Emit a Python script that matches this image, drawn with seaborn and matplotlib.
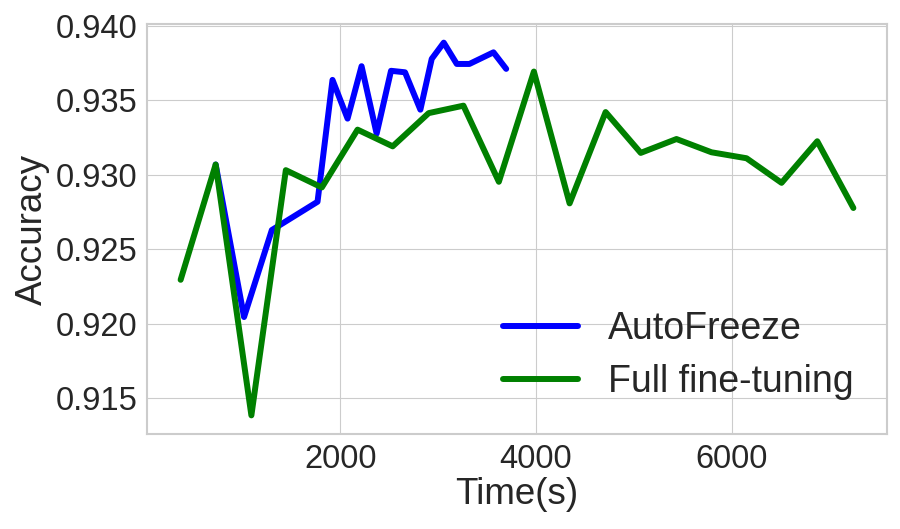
import numpy as np
import pandas as pd
import seaborn as sns
import matplotlib
matplotlib.use('Agg')
import matplotlib.pyplot as plt

# values
auto_time = [728, 1018, 1302, 1769, 1922, 2076, 2219, 2373, 2520,
             2663, 2820, 2936, 3059, 3192, 3321, 3567, 3697]
auto_acc = [0.9307, 0.92046, 0.9263, 0.9282, 0.93638, 0.93378, 0.9373, 0.93277, 0.93699,
            0.93689, 0.93438, 0.93779, 0.93888, 0.93745, 0.93745, 0.93823, 0.93712]

full_time = [370, 728, 1093, 1445, 1813, 2178, 2537, 2905, 3260, 3622,
             3980, 4345, 4713, 5072, 5437, 5795, 6153, 6511, 6876, 7245]
full_acc = [0.92296, 0.9307, 0.91386, 0.93032, 0.92916, 0.93304, 0.93192, 0.93415, 0.93465, 0.92954,
            0.93694, 0.92809, 0.93422, 0.93148, 0.93241, 0.93152, 0.93112, 0.92947, 0.93226, 0.92778]

sns.set_style('whitegrid')
plt.rcParams['font.family'] = ['Liberation Sans', 'DejaVu Sans']

fig, ax = plt.subplots(figsize=(9, 5.29), dpi=100)
fig.subplots_adjust(left=0.1633, right=0.9856, top=0.9546, bottom=0.1796)

sns.lineplot(x=auto_time, y=auto_acc, ax=ax, color='blue', linewidth=4.3,
             label='AutoFreeze', solid_capstyle='round')
sns.lineplot(x=full_time, y=full_acc, ax=ax, color='green', linewidth=4.3,
             label='Full fine-tuning', solid_capstyle='round')

ax.set_xlim(26, 7589)
ax.set_xlabel('Time(s)', fontsize=26.5, labelpad=2)
ax.set_ylabel('Accuracy', fontsize=26.5, labelpad=4)
ax.tick_params(labelsize=23.5)
ax.set_yticks([0.915, 0.920, 0.925, 0.930, 0.935, 0.940])
ax.set_xticks([2000, 4000, 6000])
for s in ax.spines.values():
    s.set_linewidth(1.5)

leg = ax.legend(loc='lower right', fontsize=27, frameon=False, handlelength=2.0,
                handletextpad=0.8, labelspacing=0.45, borderaxespad=0.5)

fig.savefig('out.png', dpi=100)
